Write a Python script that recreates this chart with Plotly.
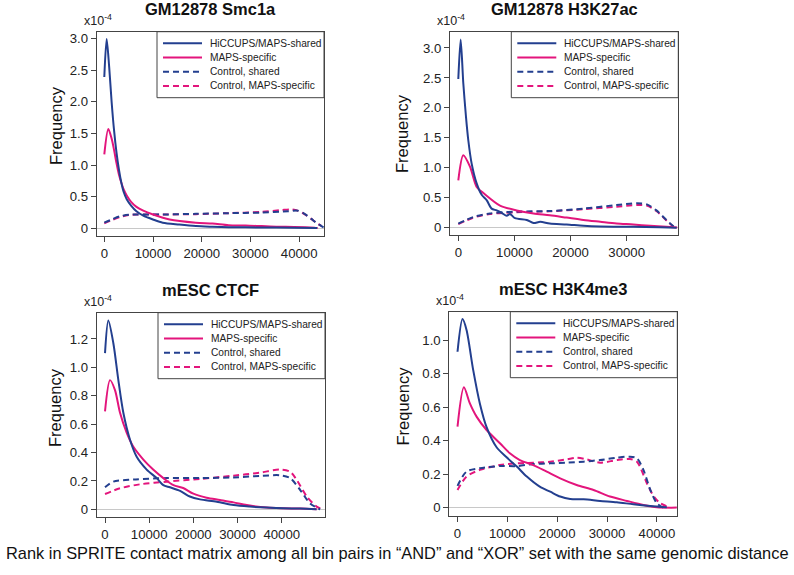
import plotly.graph_objects as go

W, H = 794, 575

# ---------------- data (frequency in units of 1e-4) ----------------
titles = ["GM12878 Smc1a", "GM12878 H3K27ac", "mESC CTCF", "mESC H3K4me3"]
series_names = ["HiCCUPS/MAPS-shared", "MAPS-specific", "Control, shared", "Control, MAPS-specific"]

# Panel 1: GM12878 Smc1a
p1_shared_x = [0, 480, 1000, 1500, 2000, 2500, 3000, 3500, 4000, 4600, 5500, 6600, 8000, 10000, 12000, 15400, 18800, 22200, 25500, 32000, 39000, 43700]
p1_shared_y = [2.39, 2.99, 2.55, 2.0, 1.55, 1.2, 0.93, 0.72, 0.57, 0.46, 0.36, 0.27, 0.2, 0.14, 0.09, 0.06, 0.036, 0.026, 0.02, 0.015, 0.01, 0.005]
p1_spec_x = [0, 820, 1500, 2000, 2500, 3000, 3500, 4000, 4600, 5500, 6600, 8000, 10000, 13400, 18800, 22200, 25500, 29000, 32300, 35700, 39000, 43100, 43800]
p1_spec_y = [1.17, 1.57, 1.42, 1.24, 1.03, 0.85, 0.72, 0.61, 0.52, 0.42, 0.34, 0.28, 0.22, 0.14, 0.09, 0.077, 0.05, 0.046, 0.036, 0.026, 0.024, 0.01, 0.005]
p1_cshared_x = [0, 1500, 3200, 5000, 6600, 12000, 18800, 25500, 32300, 37700, 39700, 41100, 42500, 43500, 44500, 45100]
p1_cshared_y = [0.09, 0.14, 0.19, 0.215, 0.22, 0.22, 0.23, 0.24, 0.25, 0.27, 0.28, 0.23, 0.15, 0.09, 0.04, 0.01]
p1_cspec_x = [0, 1500, 3200, 5000, 6600, 12000, 18800, 25500, 32300, 36400, 38400, 39700, 41000, 42500, 43500, 44500]
p1_cspec_y = [0.08, 0.13, 0.18, 0.21, 0.22, 0.22, 0.225, 0.24, 0.26, 0.29, 0.30, 0.28, 0.23, 0.15, 0.09, 0.04]

# Panel 2: GM12878 H3K27ac
p2_shared_x = [0, 420, 890, 1370, 1780, 2380, 3270, 4160, 5050, 5940, 6830, 7720, 8620, 9200, 10100, 12200, 13400, 14600, 16300, 19300, 22300, 25300, 31200, 35900, 38900]
p2_shared_y = [2.48, 3.14, 2.41, 1.85, 1.46, 1.07, 0.74, 0.55, 0.46, 0.32, 0.29, 0.25, 0.2, 0.23, 0.16, 0.13, 0.08, 0.1, 0.07, 0.055, 0.033, 0.022, 0.017, 0.01, 0.002]
p2_spec_x = [0, 890, 2080, 3270, 4460, 7430, 10400, 13400, 16300, 19300, 22300, 25300, 28200, 31200, 34200, 37100, 39000]
p2_spec_y = [0.79, 1.21, 1.02, 0.68, 0.58, 0.37, 0.29, 0.24, 0.21, 0.17, 0.13, 0.1, 0.072, 0.055, 0.033, 0.017, 0.006]
p2_cshared_x = [0, 2670, 5640, 10400, 16300, 22300, 28200, 31800, 33600, 35300, 37100, 38300, 39000]
p2_cshared_y = [0.07, 0.18, 0.24, 0.27, 0.28, 0.32, 0.38, 0.41, 0.39, 0.29, 0.13, 0.03, 0.0]
p2_cspec_x = [0, 2670, 5640, 10400, 16300, 22300, 28200, 31800, 33600, 35300, 37100, 38300]
p2_cspec_y = [0.06, 0.17, 0.23, 0.26, 0.275, 0.31, 0.35, 0.38, 0.37, 0.28, 0.12, 0.02]

# Panel 3: mESC CTCF
p3_shared_x = [0, 750, 1890, 3020, 4150, 5660, 7170, 9430, 11700, 13200, 14700, 17000, 19200, 21500, 25300, 29100, 32800, 36600, 40400, 44200, 47900]
p3_shared_y = [1.10, 1.33, 1.17, 0.91, 0.68, 0.49, 0.37, 0.28, 0.22, 0.17, 0.155, 0.13, 0.09, 0.07, 0.054, 0.03, 0.019, 0.012, 0.007, 0.005, 0.0]
p3_spec_x = [0, 1130, 2260, 3400, 4900, 6420, 8680, 10900, 13200, 15500, 17700, 20000, 23000, 26000, 29100, 32100, 36600, 40400, 44200, 47900]
p3_spec_y = [0.69, 0.91, 0.84, 0.68, 0.54, 0.44, 0.35, 0.28, 0.22, 0.17, 0.15, 0.11, 0.082, 0.066, 0.049, 0.03, 0.012, 0.007, 0.005, 0.0]
p3_cshared_x = [0, 1890, 6400, 14000, 21500, 29100, 35000, 39600, 41900, 44200, 46400, 48700]
p3_cshared_y = [0.155, 0.195, 0.21, 0.22, 0.22, 0.225, 0.235, 0.24, 0.22, 0.136, 0.042, 0.0]
p3_cspec_x = [0, 3400, 7900, 14000, 21500, 29100, 35000, 39600, 41900, 43400, 45700, 47900, 49400]
p3_cspec_y = [0.108, 0.148, 0.176, 0.195, 0.214, 0.237, 0.258, 0.28, 0.265, 0.207, 0.089, 0.019, 0.0]

# Panel 4: mESC H3K4me3
p4_shared_x = [0, 1000, 1810, 3150, 4490, 5830, 7840, 9850, 11900, 13900, 16500, 18600, 20600, 22600, 25300, 28600, 31960, 35300, 38700, 42000]
p4_shared_y = [0.93, 1.125, 1.06, 0.82, 0.62, 0.48, 0.36, 0.30, 0.245, 0.185, 0.125, 0.095, 0.066, 0.052, 0.05, 0.04, 0.032, 0.02, 0.01, 0.002]
p4_spec_x = [0, 1270, 2480, 3820, 5830, 8510, 10500, 12500, 15200, 17900, 20600, 23900, 27300, 30600, 34000, 37300, 40000, 44000]
p4_spec_y = [0.483, 0.718, 0.622, 0.543, 0.463, 0.384, 0.324, 0.284, 0.254, 0.215, 0.175, 0.135, 0.105, 0.066, 0.04, 0.016, 0.002, 0.0]
p4_cshared_x = [0, 1810, 4490, 8510, 11900, 15200, 18600, 21900, 25300, 28600, 31960, 34600, 36000, 37300, 38700, 40000, 41300]
p4_cshared_y = [0.13, 0.215, 0.235, 0.248, 0.248, 0.26, 0.264, 0.268, 0.274, 0.284, 0.298, 0.304, 0.294, 0.225, 0.105, 0.026, 0.0]
p4_cspec_x = [0, 1810, 4490, 8510, 11900, 15200, 18600, 21900, 23900, 25900, 28600, 31960, 34600, 36000, 38000, 39400, 40700, 42700]
p4_cspec_y = [0.105, 0.185, 0.225, 0.254, 0.264, 0.268, 0.274, 0.288, 0.298, 0.288, 0.268, 0.284, 0.29, 0.274, 0.145, 0.066, 0.026, 0.0]

x_ranges = [[-1560, 45100], [-1480, 39200], [-1880, 49800], [-1650, 44100]]
y_ranges = [[-0.12, 3.105], [-0.12, 3.27], [-0.052, 1.385], [-0.05, 1.169]]
x_tickvals = [[0, 10000, 20000, 30000, 40000], [0, 10000, 20000, 30000], [0, 10000, 20000, 30000, 40000], [0, 10000, 20000, 30000, 40000]]
y_tickvals = [[0, 0.5, 1.0, 1.5, 2.0, 2.5, 3.0], [0, 0.5, 1.0, 1.5, 2.0, 2.5, 3.0],
              [0, 0.2, 0.4, 0.6, 0.8, 1.0, 1.2], [0, 0.2, 0.4, 0.6, 0.8, 1.0]]
y_ticktext = [["0", "0.5", "1.0", "1.5", "2.0", "2.5", "3.0"], ["0", "0.5", "1.0", "1.5", "2.0", "2.5", "3.0"],
              ["0", "0.2", "0.4", "0.6", "0.8", "1.0", "1.2"], ["0", "0.2", "0.4", "0.6", "0.8", "1.0"]]
x_label = "Rank in SPRITE contact matrix among all bin pairs in \u201cAND\u201d and \u201cXOR\u201d set with the same genomic distance"
y_label = "Frequency"

panels = [
    [(p1_shared_x, p1_shared_y), (p1_spec_x, p1_spec_y), (p1_cshared_x, p1_cshared_y), (p1_cspec_x, p1_cspec_y)],
    [(p2_shared_x, p2_shared_y), (p2_spec_x, p2_spec_y), (p2_cshared_x, p2_cshared_y), (p2_cspec_x, p2_cspec_y)],
    [(p3_shared_x, p3_shared_y), (p3_spec_x, p3_spec_y), (p3_cshared_x, p3_cshared_y), (p3_cspec_x, p3_cspec_y)],
    [(p4_shared_x, p4_shared_y), (p4_spec_x, p4_spec_y), (p4_cshared_x, p4_cshared_y), (p4_cspec_x, p4_cspec_y)],
]

# ---------------- styling / layout ----------------
BLUE = "#233f8f"
PINK = "#e3157c"
colors = [BLUE, PINK, BLUE, PINK]
dashes = ["solid", "solid", "6px,4px", "6px,4px"]
draw_order = [3, 2, 1, 0]
FONT = "Arial, Liberation Sans, sans-serif"
AX = "#444444"

# plot boxes in pixels: left, right, top, bottom
boxes = [(96.7, 324.0, 31.7, 236.0), (450.0, 678.3, 31.7, 235.0),
         (96.7, 325.0, 312.7, 516.7), (449.3, 677.3, 311.7, 516.0)]
ylab_pos = [(56, 126), (402, 134), (55, 408), (402, 406.5)]

def px(x):
    return x / W

def py(y):
    return 1 - y / H

fig = go.Figure()
shapes = []
annotations = []

for i in range(4):
    L, R, T, B = boxes[i]
    xa = "x" if i == 0 else f"x{i+1}"
    ya = "y" if i == 0 else f"y{i+1}"
    for k in draw_order:
        xs, ys = panels[i][k]
        fig.add_trace(go.Scatter(
            x=xs, y=ys, mode="lines", name=series_names[k], showlegend=False,
            line=dict(color=colors[k], width=2, dash=dashes[k], shape="spline", smoothing=0.8),
            xaxis=xa, yaxis=ya, hoverinfo="skip"))
    axis_common = dict(showline=True, mirror=True, linecolor=AX, linewidth=1,
                       ticks="outside", ticklen=5, tickcolor=AX, tickwidth=1,
                       showgrid=False, fixedrange=True,
                       tickfont=dict(family=FONT, size=13.2, color="#222"))
    fig.layout[f"xaxis{'' if i == 0 else i+1}"] = dict(
        domain=[px(L), px(R)], range=x_ranges[i], anchor=ya, zeroline=False,
        tickvals=x_tickvals[i], ticktext=[str(v) for v in x_tickvals[i]], **axis_common)
    fig.layout[f"yaxis{'' if i == 0 else i+1}"] = dict(
        domain=[py(B), py(T)], range=y_ranges[i], anchor=xa, zeroline=True,
        zerolinecolor="#c8c8c8", zerolinewidth=1,
        tickvals=y_tickvals[i], ticktext=y_ticktext[i], **axis_common)

    # title
    annotations.append(dict(text=f"<b>{titles[i]}</b>", x=px((L + R) / 2), y=py(T - 23),
                            xref="paper", yref="paper", showarrow=False, xanchor="center", yanchor="middle",
                            font=dict(family=FONT, size=16.5, color="#111")))
    # x10^-4
    annotations.append(dict(text="x10<sup>-4</sup>", x=px(L - 15), y=py(T - 12),
                            xref="paper", yref="paper", showarrow=False, xanchor="left", yanchor="middle",
                            font=dict(family=FONT, size=12.5, color="#222")))
    # y label
    annotations.append(dict(text=y_label, x=px(ylab_pos[i][0]), y=py(ylab_pos[i][1]),
                            xref="paper", yref="paper", showarrow=False, textangle=-90,
                            xanchor="center", yanchor="middle",
                            font=dict(family=FONT, size=16.5, color="#111")))
    # legend box
    lw, lh = 167, 66
    shapes.append(dict(type="rect", xref="paper", yref="paper",
                       x0=px(R - lw), x1=px(R), y0=py(T + lh), y1=py(T),
                       line=dict(color=AX, width=1), fillcolor="rgba(0,0,0,0)"))
    for k in range(4):
        ry = T + 11.6 + 14.2 * k
        shapes.append(dict(type="line", xref="paper", yref="paper",
                           x0=px(R - 161), x1=px(R - 122), y0=py(ry), y1=py(ry),
                           line=dict(color=colors[k], width=2,
                                     dash="solid" if k < 2 else "6px,4px")))
        annotations.append(dict(text=series_names[k], x=px(R - 116), y=py(ry),
                                xref="paper", yref="paper", showarrow=False,
                                xanchor="left", yanchor="middle",
                                font=dict(family=FONT, size=10.2, color="#222")))

annotations.append(dict(text=x_label, x=0.5, y=py(553), xref="paper", yref="paper",
                        showarrow=False, xanchor="center", yanchor="middle",
                        font=dict(family=FONT, size=16.4, color="#111")))

fig.update_layout(width=W, height=H, margin=dict(l=0, r=0, t=0, b=0),
                  plot_bgcolor="white", paper_bgcolor="white",
                  shapes=shapes, annotations=annotations, showlegend=False,
                  hovermode=False, dragmode=False)

fig.write_html("out.html", config={"displayModeBar": False, "staticPlot": True},
               post_script="document.body.style.margin='0px';document.body.style.overflow='hidden';")
